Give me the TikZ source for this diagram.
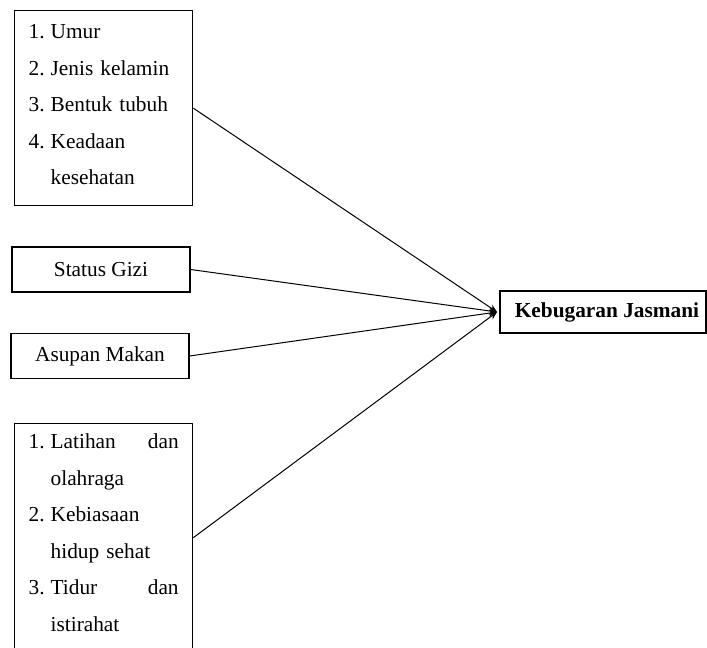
\documentclass[tikz,border=0pt]{standalone}
\usepackage{fontspec}
\usetikzlibrary{arrows.meta}
\setmainfont{Liberation Serif}
\newcommand{\nomor}[1]{\makebox[16.5pt][l]{#1}}
\newcommand{\sambung}{\hspace*{16.5pt}}
\tikzset{
  daftar/.style={draw,line width=1pt,anchor=north west,text width=112.5pt,
    inner xsep=10.5pt,inner ysep=0pt,align=left,
    font=\fontsize{16pt}{27.4pt}\selectfont},
  kotak/.style={draw,line width=1pt,minimum width=133.5pt,minimum height=33.75pt,
    inner sep=0pt,font=\fontsize{16pt}{19pt}\selectfont}
}
\begin{document}
\begin{tikzpicture}[x=0.75pt,y=-0.75pt,>={Stealth[length=6pt,width=5pt]}]
   \useasboundingbox (0,0) rectangle (707,647);
   \clip (0,0) rectangle (707,647);

   % faktor
   \node[daftar,text height=21pt,text depth=125.25pt] (umur) at (14,10)
     {\nomor{1.}Umur\\ \nomor{2.}Jenis kelamin\\ \nomor{3.}Bentuk tubuh\\
      \nomor{4.}Keadaan\\ \sambung kesehatan};
   \node[kotak] (gizi) at (101,269.5) {Status Gizi};
   \node[kotak] (asupan) at (100,356) {Asupan Makan};
   \node[daftar,text height=18.75pt,text depth=152.25pt] (latihan) at (14,423)
     {\nomor{1.}Latihan\hfill dan\\ \sambung olahraga\\ \nomor{2.}Kebiasaan\\
      \sambung hidup sehat\\ \nomor{3.}Tidur\hfill dan\\ \sambung istirahat};

   % hasil
   \node[kotak,minimum width=154.5pt,minimum height=31.5pt,
     font=\fontsize{16pt}{19pt}\selectfont\bfseries] (bugar) at (603,312)
     {\hspace*{6pt}Kebugaran Jasmani};
   \coordinate (temu) at (497,312);

   \draw[->,line width=0.75pt] (umur.east) -- (temu);
   \draw[->,line width=0.75pt] (gizi.east) -- (temu);
   \draw[->,line width=0.75pt] (asupan.east) -- (temu);
   \draw[->,line width=0.75pt] (latihan.east) -- (temu);

\end{tikzpicture}
\end{document}
